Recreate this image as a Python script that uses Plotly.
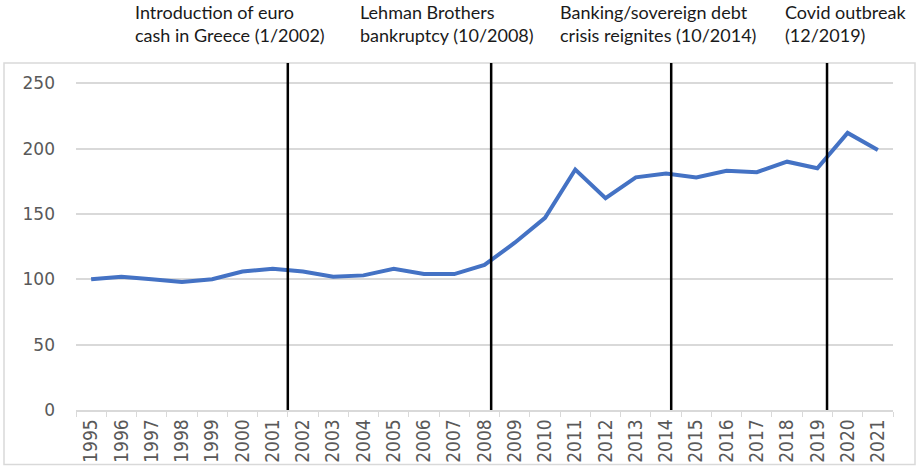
import plotly.graph_objects as go

years = [str(y) for y in range(1995, 2022)]
values = [100, 102, 100, 98, 100, 106, 108, 106, 102, 103, 108, 104, 104, 111,
          128, 147, 184, 162, 178, 181, 178, 183, 182, 190, 185, 212, 199]

event_labels = ["Introduction of euro<br>cash in Greece (1/2002)",
                "Lehman Brothers<br>bankruptcy (10/2008)",
                "Banking/sovereign debt<br>crisis reignites (10/2014)",
                "Covid outbreak<br>(12/2019)"]
event_pos = [6.5, 13.22, 19.17, 24.32]
label_left_px = [134, 359, 559, 784]  # page pixels

W, H = 918, 466
plot_left, plot_right, plot_top, plot_bottom = 76, 893, 63, 410  # page pixels
ml = plot_left
mr = W - plot_right
mt = plot_top
mb = H - plot_bottom
pw = W - ml - mr
ph = H - mt - mb


def px_x(px):
    return (px - plot_left) / pw


def px_y(py):
    return (plot_bottom - py) / ph


fig = go.Figure()
fig.add_trace(go.Scatter(x=years, y=values, mode="lines",
                         line=dict(color="#4472C4", width=4), hoverinfo="x+y"))

shapes = []
for p in event_pos:
    shapes.append(dict(type="line", xref="x", yref="paper", x0=p, x1=p, y0=0, y1=1,
                       line=dict(color="black", width=2.5)))
# outer chart border
shapes.append(dict(type="rect", xref="paper", yref="paper",
                   x0=px_x(4), x1=px_x(915), y0=px_y(464.5), y1=1.0,
                   line=dict(color="#d9d9d9", width=1.5), layer="below"))

annotations = []
for lab, px in zip(event_labels, label_left_px):
    annotations.append(dict(text=lab, xref="paper", yref="paper",
                            x=px_x(px), y=px_y(0),
                            xanchor="left", yanchor="top", align="left",
                            showarrow=False, borderpad=0,
                            font=dict(family="Lato, Open Sans, sans-serif", size=18, color="#1a1a1a")))

fig.update_layout(
    width=W, height=H,
    margin=dict(l=ml, r=mr, t=mt, b=mb),
    paper_bgcolor="white", plot_bgcolor="white",
    showlegend=False,
    shapes=shapes, annotations=annotations,
    xaxis=dict(type="category", range=[-0.5, 26.5], tickangle=-90, automargin=False,
               tickson="boundaries", ticks="outside", ticklen=5, tickcolor="#d9d9d9",
               showline=True, linecolor="#d9d9d9", linewidth=1.5, showgrid=False,
               tickfont=dict(family="Liberation Sans Narrow, DejaVu Sans Condensed, sans-serif",
                             size=19, color="#595959")),
    yaxis=dict(range=[0, 265.5], tickvals=[0, 50, 100, 150, 200, 250], automargin=False,
               showgrid=True, gridcolor="#d9d9d9", gridwidth=1.5, zeroline=False,
               showline=False, ticks="", ticklabelstandoff=20,
               tickfont=dict(family="DejaVu Sans, sans-serif", size=17, color="#595959")),
)

fig.write_html("out.html", config={"displayModeBar": False},
               post_script="document.body.style.margin='0px';document.body.style.overflow='hidden';")
